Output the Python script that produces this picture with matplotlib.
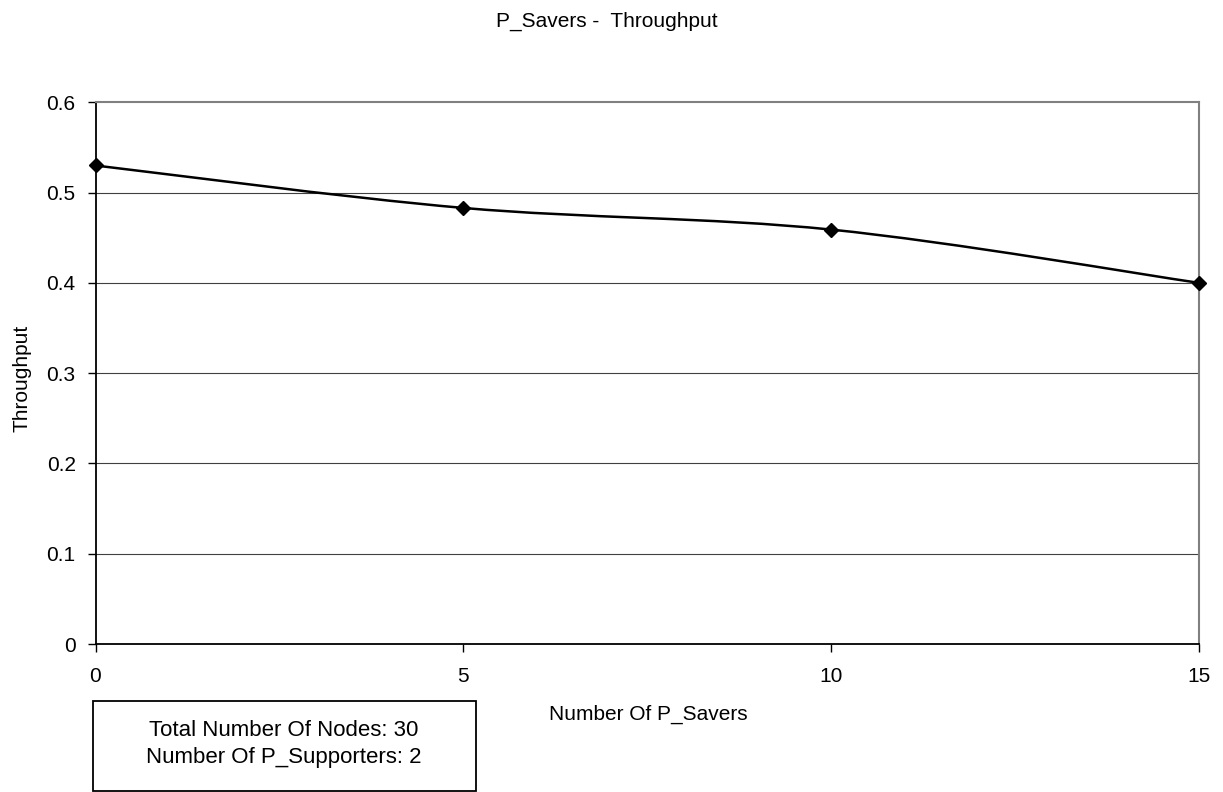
import matplotlib
matplotlib.use("Agg")
import matplotlib.pyplot as plt
from matplotlib.patches import PathPatch, Rectangle
from matplotlib.path import Path as MplPath
import numpy as np

plt.rcParams["font.family"] = ["Liberation Sans", "DejaVu Sans"]

# data
savers = [0, 5, 10, 15]
throughput = [0.530, 0.483, 0.459, 0.400]
x_ticks = [0, 5, 10, 15]
y_ticks = [0, 0.1, 0.2, 0.3, 0.4, 0.5, 0.6]
y_tick_labels = ["0", "0.1", "0.2", "0.3", "0.4", "0.5", "0.6"]
note_lines = ["Total Number Of Nodes: 30", "Number Of P_Supporters: 2"]

W, H = 1223, 792
FS = 15


def smooth_path(xs, ys):
    # Excel-style smoothed line: cubic bezier through every point
    pts = np.column_stack([xs, ys]).astype(float)
    ext = np.vstack([pts[0], pts, pts[-1]])
    verts = [tuple(pts[0])]
    codes = [MplPath.MOVETO]
    for i in range(len(pts) - 1):
        p0, p1, p2, p3 = ext[i], ext[i + 1], ext[i + 2], ext[i + 3]
        c1 = p1 + (p2 - p0) / 6.0
        c2 = p2 - (p3 - p1) / 6.0
        verts += [tuple(c1), tuple(c2), tuple(p2)]
        codes += [MplPath.CURVE4] * 3
    return MplPath(verts, codes)


fig = plt.figure(figsize=(W / 100, H / 100), dpi=100)
ax = fig.add_axes([95.5 / W, 1 - 644 / H, (1199 - 95.5) / W, (644 - 102.3) / H])

ax.set_xlim(0, 15)
ax.set_ylim(0, 0.6)
ax.set_xticks(x_ticks)
ax.set_yticks(y_ticks)
ax.set_yticklabels(y_tick_labels)
ax.tick_params(axis="both", direction="out", length=5.8, width=1.0, color="black",
               labelsize=FS, labelcolor="black")
ax.tick_params(axis="x", pad=11)
ax.tick_params(axis="y", pad=8.5)

for y in y_ticks[1:-1]:
    ax.axhline(y, color="#404040", linewidth=0.8, zorder=1)

ax.spines["left"].set_color("black")
ax.spines["left"].set_linewidth(1.3)
ax.spines["bottom"].set_color("black")
ax.spines["bottom"].set_linewidth(1.3)
ax.spines["top"].set_color("#808080")
ax.spines["top"].set_linewidth(1.5)
ax.spines["right"].set_color("#808080")
ax.spines["right"].set_linewidth(1.5)

ax.add_patch(PathPatch(smooth_path(savers, throughput), facecolor="none",
                       edgecolor="black", linewidth=1.8, zorder=3, clip_on=False))
ax.plot(savers, throughput, linestyle="none", marker="D", markersize=7.2,
        color="black", zorder=4, clip_on=False)

fig.text(607 / W, 1 - 26.7 / H, "P_Savers -  Throughput", ha="center", va="baseline", fontsize=FS)
fig.text(648 / W, 1 - 719.3 / H, "Number Of P_Savers", ha="center", va="baseline", fontsize=FS)
fig.text(22 / W, 1 - 378 / H, "Throughput", ha="center", va="center", rotation=90, fontsize=FS)

fig.patches.append(Rectangle((92.7 / W, 1 - 790.7 / H), (476 - 92.7) / W, (790.7 - 700.7) / H,
                             transform=fig.transFigure, facecolor="white",
                             edgecolor="black", linewidth=1.3))
fig.text(283.5 / W, 1 - 736.5 / H, note_lines[0], ha="center", va="baseline", fontsize=16)
fig.text(283.5 / W, 1 - 763 / H, note_lines[1], ha="center", va="baseline", fontsize=16)

fig.savefig("out.png", dpi=100, facecolor="white")
